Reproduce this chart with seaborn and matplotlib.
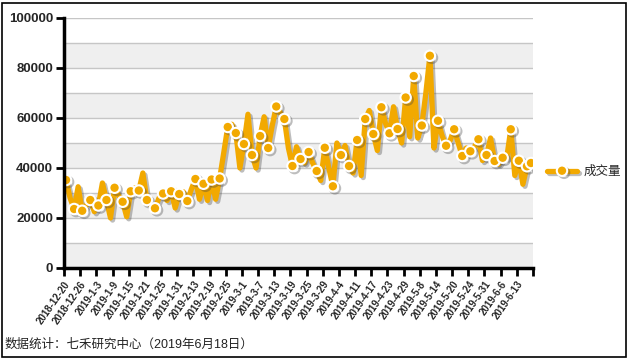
#成交量 line chart, 2018-12-20 .. 2019-6-18 (trading days)
import matplotlib
matplotlib.use('Agg')
import matplotlib.pyplot as plt
import matplotlib.patheffects as pe
from matplotlib.patches import Rectangle
import seaborn as sns

sns.set_style('white')
plt.rcParams['font.family'] = ['Liberation Sans', 'Noto Sans CJK SC']

#daily volume
volume = [35200, 28000, 23600, 32500, 22900, 25000, 27200, 22500, 25000, 34000,
          27200, 20000, 32100, 29000, 26500, 20500, 30700, 32000, 31000, 38000,
          27200, 25000, 23900, 28000, 29800, 27000, 30700, 24000, 29600, 30500,
          26800, 31500, 35600, 27500, 33700, 27000, 35400, 27500, 35800, 46000,
          56400, 57500, 54000, 40000, 49600, 61500, 45200, 40000, 52800, 60500,
          48000, 57000, 64600, 62000, 59600, 48000, 40800, 48500, 43600, 42000,
          46400, 42000, 38800, 35000, 48100, 40000, 32700, 50000, 45200, 49000,
          40800, 38000, 51200, 37000, 59600, 63000, 53600, 47000, 64300, 58000,
          53900, 64500, 55600, 50000, 68200, 52500, 76800, 52000, 57000, 70000,
          84900, 48000, 58900, 53000, 48900, 51000, 55500, 50000, 44800, 48000,
          46700, 48500, 51500, 43000, 45200, 52000, 42800, 41500, 44100, 44000,
          55500, 37000, 42900, 33500, 40700, 42000]

#every 4th trading day gets a label
tick_labels = ['2018-12-20', '2018-12-26', '2019-1-3', '2019-1-9', '2019-1-15',
               '2019-1-21', '2019-1-25', '2019-1-31', '2019-2-13', '2019-2-19',
               '2019-2-25', '2019-3-1', '2019-3-7', '2019-3-13', '2019-3-19',
               '2019-3-25', '2019-3-29', '2019-4-4', '2019-4-11', '2019-4-17',
               '2019-4-23', '2019-4-29', '2019-5-8', '2019-5-14', '2019-5-20',
               '2019-5-24', '2019-5-31', '2019-6-6', '2019-6-13']
y_ticks = [0, 20000, 40000, 60000, 80000, 100000]
series_name = '成交量'
footer = '数据统计：七禾研究中心（2019年6月18日）'

days = list(range(len(volume)))
marks = list(range(0, len(volume), 2)) + [len(volume) - 1]

fig = plt.figure(figsize=(6.31, 3.6), dpi=100)
ax = fig.add_axes([64 / 631, 1 - 268 / 360, (533 - 64) / 631, 250 / 360])

#grey bands and grid lines
for lo in range(0, 100000, 20000):
    ax.axhspan(lo, lo + 10000, color='#efefef', lw=0, zorder=0)
for y in range(10000, 100001, 10000):
    ax.axhline(y, color='#c6c6c6', lw=1, zorder=0.5)

shadow = [pe.SimpleLineShadow(offset=(1.5, -1.5), shadow_color='#444444', alpha=0.35),
          pe.Normal()]
sns.lineplot(x=days, y=volume, ax=ax,
             color='#F2A900', lw=3.8,
             marker='o', markevery=marks, ms=7.5, mec='white', mew=1.5,
             path_effects=shadow, label=series_name)

ax.set_xlim(-0.5, len(volume) - 0.5)
ax.set_ylim(0, 100000)
ax.set_xlabel('')
ax.set_ylabel('')

ax.spines[['top', 'right']].set_visible(False)
for side in ['left', 'bottom']:
    ax.spines[side].set_linewidth(2.5)
    ax.spines[side].set_color('black')

ax.set_yticks(y_ticks)
ax.set_yticklabels([str(v) for v in y_ticks], fontsize=9.5, fontweight='bold')
ax.set_xticks([4 * k - 0.5 for k in range(len(tick_labels) + 1)])
ax.set_xticklabels(tick_labels + [''], fontsize=7, fontweight='bold')
ax.tick_params(axis='y', left=True, length=6, width=2, pad=2, color='black')
ax.tick_params(axis='x', bottom=True, length=6, width=2, pad=2, color='black')
for lab in ax.get_xticklabels():
    lab.set_rotation(55)
    lab.set_ha('right')
    lab.set_va('top')
    lab.set_rotation_mode('anchor')

ax.legend(loc='center left', bbox_to_anchor=(542 / 631, 1 - 172 / 360),
          bbox_transform=fig.transFigure, frameon=False, fontsize=9,
          handlelength=2.4, borderaxespad=0, handletextpad=0.5)

fig.text(5 / 631, 1 - 345 / 360, footer, fontsize=9, va='center', color='#222222')
fig.add_artist(Rectangle((2 / 631, 1 - 357 / 360), 624 / 631, 354 / 360,
                         transform=fig.transFigure, fill=False, ec='black', lw=1.2))

fig.savefig('out.png', dpi=100)
